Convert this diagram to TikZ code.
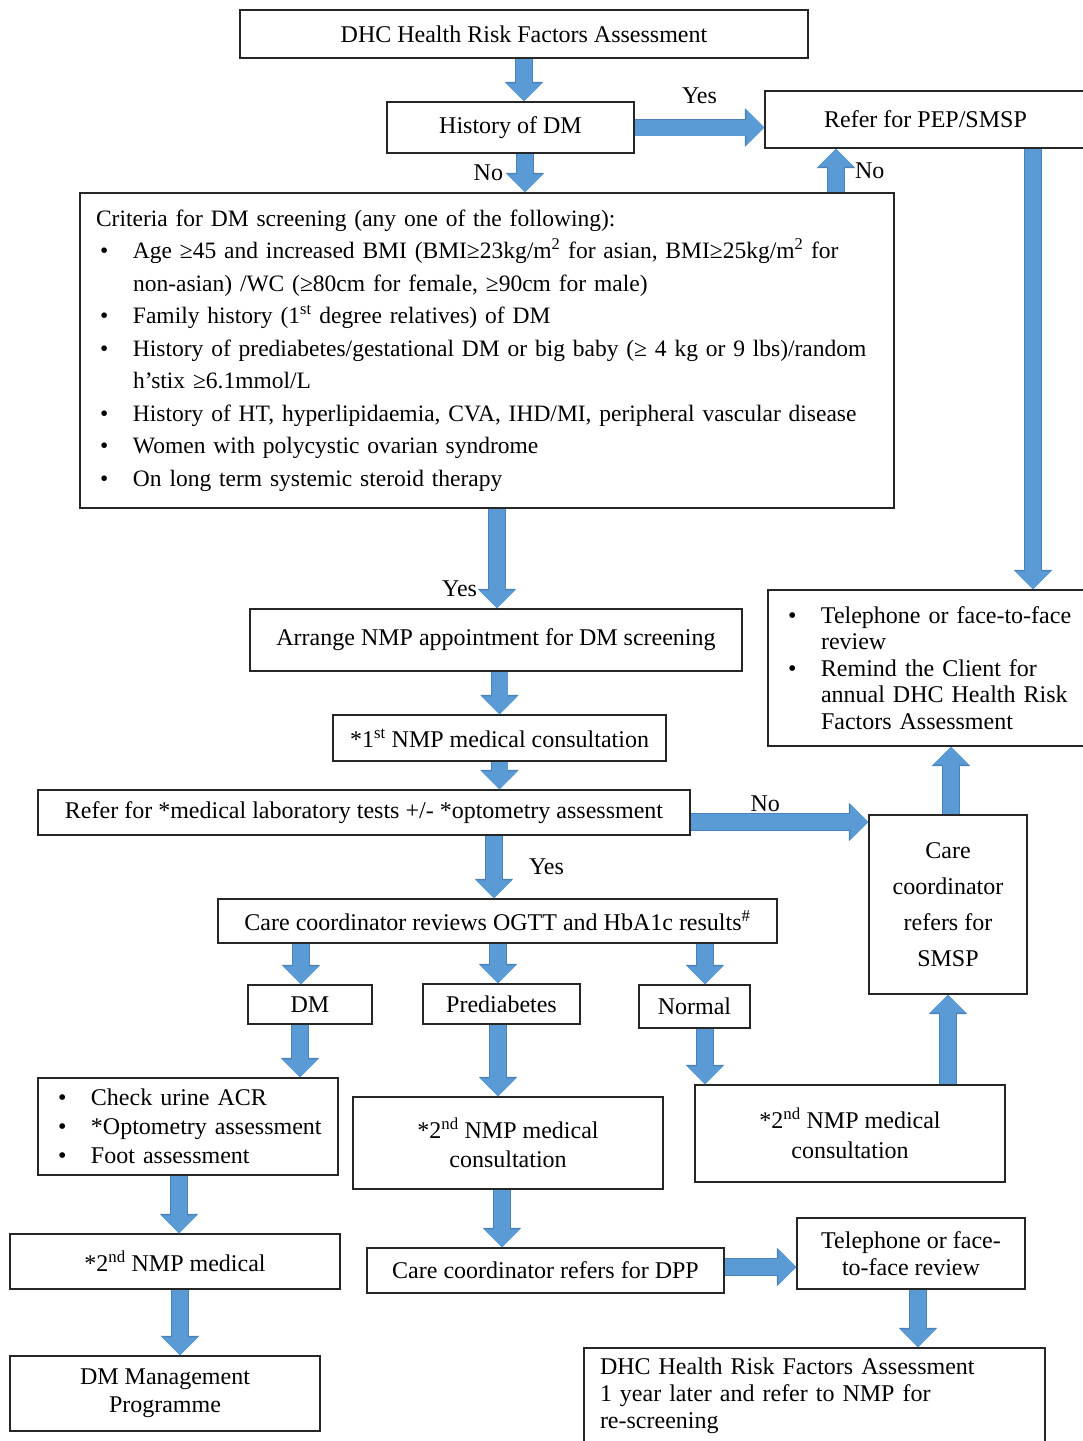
\documentclass[tikz,border=0pt]{standalone}
\usepackage{fontspec}
\setmainfont{Liberation Serif}
\usepackage{tikz}
\usetikzlibrary{arrows.meta}

\definecolor{flowblue}{HTML}{5B9BD5}
\definecolor{flowedge}{HTML}{4A82B8}

% bullet lines for the list boxes
\newcommand{\bul}[1]{\mbox{\makebox[37pt][l]{\hspace{4pt}\textbullet}#1}}
\newcommand{\ind}[1]{\mbox{\hspace{37pt}#1}}

\tikzset{
  box/.style={draw=black!85, line width=1.4pt, fill=white, inner sep=0pt,
    align=center, font=\fontsize{24}{29}\selectfont},
  listbox/.style={box, align=left, inner xsep=16pt},
  flow/.style={line width=16pt, draw=flowblue, -{Triangle[width=35pt,length=18pt]},
    preaction={draw=flowedge, line width=17.5pt, -{Triangle[width=37.5pt,length=19.5pt]}}},
  lbl/.style={font=\fontsize{24}{29}\selectfont, inner sep=3pt}
}

\begin{document}
\begin{tikzpicture}[x=1pt,y=-1pt]

\useasboundingbox (0,0) rectangle (1083,1441);

% Top of the chart
\node[box, minimum width=568, minimum height=48] (top) at (524,34) {DHC Health Risk Factors Assessment};
\node[box, minimum width=247, minimum height=51] (hist) at (510.5,127.5) {History of DM};
\node[box, minimum width=321, minimum height=57] (pep) at (925.5,119.5) {Refer for PEP/SMSP};

% Screening criteria
\node[listbox, minimum width=814, minimum height=315, text width=782,
  font=\fontsize{23.5}{32.5}\selectfont] (crit) at (487,350.5) {%
  \mbox{Criteria for DM screening (any one of the following):}\\
  \bul{Age ≥45 and increased BMI (BMI≥23kg/m\textsuperscript{2} for asian, BMI≥25kg/m\textsuperscript{2} for}\\
  \ind{non-asian) /WC (≥80cm for female, ≥90cm for male)}\\
  \bul{Family history (1\textsuperscript{st} degree relatives) of DM}\\
  \bul{History of prediabetes/gestational DM or big baby (≥ 4 kg or 9 lbs)/random}\\
  \ind{h’stix ≥6.1mmol/L}\\
  \bul{History of HT, hyperlipidaemia, CVA, IHD/MI, peripheral vascular disease}\\
  \bul{Women with polycystic ovarian syndrome}\\
  \bul{On long term systemic steroid therapy}};

\node[listbox, minimum width=318, minimum height=156, text width=286,
  font=\fontsize{24}{26.5}\selectfont] (remind) at (927,668) {%
  \bul{Telephone or face-to-face}\\
  \ind{review}\\
  \bul{Remind the Client for}\\
  \ind{annual DHC Health Risk}\\
  \ind{Factors Assessment}};

% Middle part
\node[box, minimum width=492, minimum height=62] (arr) at (496,640) {Arrange NMP appointment for DM screening};
\node[box, minimum width=333, minimum height=46] (first) at (499.5,738) {*1\textsuperscript{st} NMP medical consultation};
\node[box, minimum width=652, minimum height=45] (lab) at (364,812.5) {Refer for *medical laboratory tests +/- *optometry assessment};
\node[box, minimum width=158, minimum height=179, font=\fontsize{24}{36}\selectfont] (smsp) at (948,904.5) {Care\\coordinator\\refers for\\SMSP};
\node[box, minimum width=559, minimum height=44] (rev) at (497.5,921) {Care coordinator reviews OGTT and HbA1c results\textsuperscript{\#}};

% Results
\node[box, minimum width=124, minimum height=39] (dm) at (310,1004.5) {DM};
\node[box, minimum width=157, minimum height=40] (pre) at (501.5,1004) {Prediabetes};
\node[box, minimum width=111, minimum height=43] (nor) at (694.5,1006.5) {Normal};

% Lower part
\node[listbox, minimum width=300, minimum height=97, text width=268] (chk) at (188,1126.5) {%
  \bul{Check urine ACR}\\
  \bul{*Optometry assessment}\\
  \bul{Foot assessment}};
\node[box, minimum width=310, minimum height=92] (nmpb) at (508,1143) {*2\textsuperscript{nd} NMP medical\\consultation};
\node[box, minimum width=310, minimum height=97, font=\fontsize{24}{30}\selectfont] (nmpc) at (850,1133.5) {*2\textsuperscript{nd} NMP medical\\consultation};
\node[box, minimum width=330, minimum height=55] (nmpa) at (175,1261.5) {*2\textsuperscript{nd} NMP medical};
\node[box, minimum width=357, minimum height=45] (dpp) at (545.5,1270.5) {Care coordinator refers for DPP};
\node[box, minimum width=228, minimum height=71, font=\fontsize{24}{27}\selectfont] (tel) at (911,1253.5) {Telephone or face-\\to-face review};
\node[box, minimum width=310, minimum height=75, font=\fontsize{24}{28}\selectfont] (mgmt) at (165,1393.5) {DM Management\\Programme};
\node[listbox, minimum width=461, minimum height=96, text width=429,
  font=\fontsize{24}{27}\selectfont] (later) at (814.5,1396) {%
  DHC Health Risk Factors Assessment\\
  1 year later and refer to NMP for\\
  re-screening};

% Arrows
\draw[flow] (top.south) -- (top.south |- hist.north);
\draw[flow] (hist.east) -- (hist.east -| pep.west) node[lbl, midway, above=13pt] {Yes};
\draw[flow] ([xshift=14.5]hist.south) -- ([xshift=14.5]hist.south |- crit.north) node[lbl, midway, left=11pt] {No};
\draw[flow] ([xshift=-89.5]pep.south |- crit.north) -- ([xshift=-89.5]pep.south) node[lbl, midway, right=8pt] {No};
\draw[flow] ([xshift=107.5]pep.south) -- ([xshift=107.5]pep.south |- remind.north);
\draw[flow] ([xshift=10]crit.south) -- ([xshift=10]crit.south |- arr.north) node[lbl, pos=0.8, left=9pt] {Yes};
\draw[flow] (first.north |- arr.south) -- (first.north);
\draw[flow] (first.south) -- (first.south |- lab.north);
\draw[flow] ([yshift=-9.5]lab.east) -- ([yshift=-9.5]lab.east -| smsp.west) node[lbl, pos=0.42, above=-1pt] {No};
\draw[flow] ([xshift=-3.5]rev.north |- lab.south) -- ([xshift=-3.5]rev.north) node[lbl, midway, right=24pt] {Yes};
\draw[flow] ([xshift=-9]dm.north |- rev.south) -- ([xshift=-9]dm.north);
\draw[flow] ([xshift=-3.5]pre.north |- rev.south) -- ([xshift=-3.5]pre.north);
\draw[flow] ([xshift=10.5]nor.north |- rev.south) -- ([xshift=10.5]nor.north);
\draw[flow] ([xshift=-10]dm.south) -- ([xshift=-10]dm.south |- chk.north);
\draw[flow] ([xshift=-3.5]pre.south) -- ([xshift=-3.5]pre.south |- nmpb.north);
\draw[flow] ([xshift=10.5]nor.south) -- ([xshift=10.5]nor.south |- nmpc.north);
\draw[flow] (smsp.south |- nmpc.north) -- (smsp.south);
\draw[flow] ([xshift=3]smsp.north) -- ([xshift=3]smsp.north |- remind.south);
\draw[flow] ([xshift=-9]chk.south) -- ([xshift=-9]chk.south |- nmpa.north);
\draw[flow] ([xshift=5]nmpa.south) -- ([xshift=5]nmpa.south |- mgmt.north);
\draw[flow] ([xshift=-6]nmpb.south) -- ([xshift=-6]nmpb.south |- dpp.north);
\draw[flow] ([yshift=3.5]dpp.east) -- ([yshift=3.5]dpp.east -| tel.west);
\draw[flow] ([xshift=7]tel.south) -- ([xshift=7]tel.south |- later.north);

\end{tikzpicture}
\end{document}
